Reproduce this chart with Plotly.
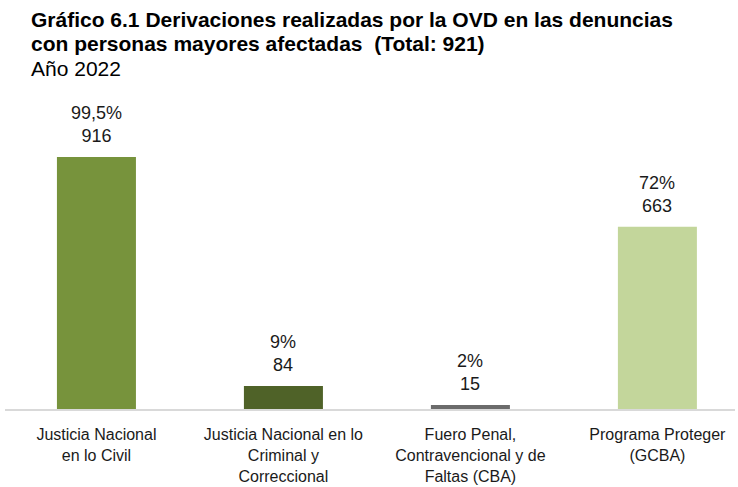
import plotly.graph_objects as go

categories = [
    "Justicia Nacional<br>en lo Civil",
    "Justicia Nacional en lo<br>Criminal y<br>Correccional",
    "Fuero Penal,<br>Contravencional y de<br>Faltas (CBA)",
    "Programa Proteger<br>(GCBA)",
]
values = [916, 84, 15, 663]
percent_labels = ["99,5%", "9%", "2%", "72%"]
colors = ["#77933C", "#4F6228", "#6B6B6B", "#C3D69B"]

title_lines = [
    "<b>Gráfico 6.1 Derivaciones realizadas por la OVD en las denuncias</b>",
    "<b>con personas mayores afectadas  (Total: 921)</b>",
    "Año 2022",
]

FONT = "Liberation Sans, Arial, sans-serif"
W, H = 738, 487
L, R, T, B = 5, 3, 90, 78
PW, PH = W - L - R, H - T - B

def px_to_paper_x(px):
    return (px - L) / PW

def py_to_paper_y(py):
    return (H - B - py) / PH

fig = go.Figure(go.Bar(
    x=list(range(len(categories))),
    y=values,
    marker=dict(color=colors, line=dict(width=0)),
    width=0.4225,
    hoverinfo="skip",
))

annotations = []
for i, (p, v) in enumerate(zip(percent_labels, values)):
    annotations.append(dict(
        x=i, y=v, xref="x", yref="y",
        text=f"{p}<br>{v}", showarrow=False,
        yanchor="bottom", yshift=9,
        font=dict(family=FONT, size=18, color="#1a1a1a"),
    ))

for line, py in zip(title_lines, [20, 44, 68]):
    annotations.append(dict(
        x=px_to_paper_x(29), y=py_to_paper_y(py), xref="paper", yref="paper",
        xanchor="left", yanchor="middle", text=line, showarrow=False,
        font=dict(family=FONT, size=21, color="black"),
    ))

fig.update_layout(
    width=W, height=H,
    margin=dict(l=L, r=R, t=T, b=B, autoexpand=False),
    paper_bgcolor="white", plot_bgcolor="white",
    showlegend=False,
    annotations=annotations,
    xaxis=dict(
        tickmode="array",
        tickvals=list(range(len(categories))),
        ticktext=categories,
        range=[-0.489, 3.415],
        showline=True, linecolor="#D9D9D9", linewidth=2,
        showgrid=False, zeroline=False, ticks="",
        automargin=False,
        ticklabelstandoff=10,
        tickfont=dict(family=FONT, size=16, color="#1a1a1a"),
    ),
    yaxis=dict(range=[0, 1160], visible=False, showgrid=False, zeroline=False),
)

fig.write_html(
    "out.html",
    config={"displayModeBar": False},
    post_script="document.body.style.margin='0';document.body.style.overflow='hidden';",
)
